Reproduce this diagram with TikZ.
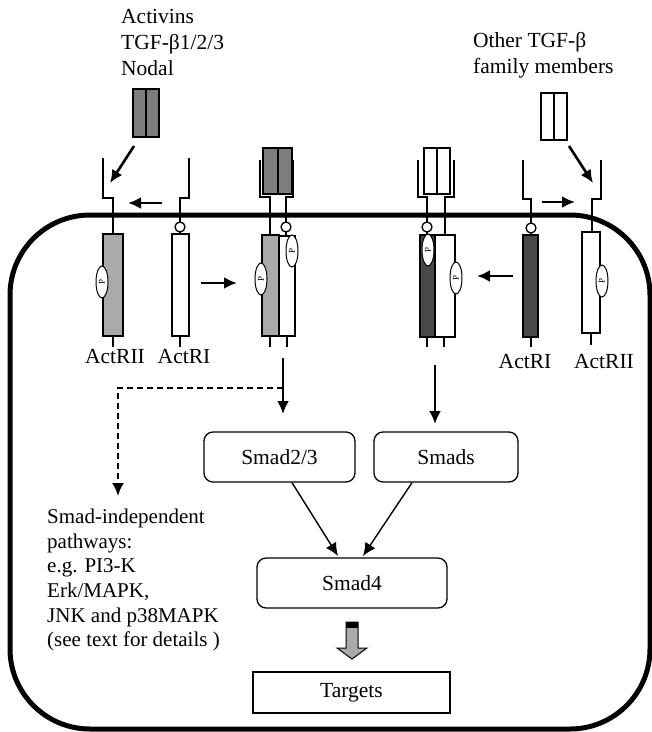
\documentclass[tikz,border=0pt]{standalone}
\usepackage{fontspec}
\setmainfont{Liberation Serif}
\usetikzlibrary{arrows.meta, shapes.geometric}
\definecolor{liggray}{RGB}{125, 125, 125}
\definecolor{rtwogray}{RGB}{170, 170, 170}
\definecolor{ronedark}{RGB}{72, 72, 72}
\tikzset{
  txt/.style={font=\fontsize{21.5}{26}\selectfont, inner sep=0pt},
  smadbox/.style={draw, line width=1.3pt, rounded corners=9pt, font=\fontsize{21.5}{26}\selectfont},
  rline/.style={line width=1.3pt},
  phos/.style={ellipse, draw, fill=white, line width=1pt, rotate=90, minimum width=32pt, minimum height=12pt, inner sep=0pt, font=\fontsize{9}{9}\selectfont},
  bigarrow/.style={->, line width=2.6pt},
}

\begin{document}
\begin{tikzpicture}[x=1pt, y=-1pt, >={Latex[length=13pt,width=12pt]}]
    \useasboundingbox (0,0) rectangle (652,732);
    \draw[line width=5pt, rounded corners=80pt] (10,215) rectangle (650,729);

    \node[txt, anchor=north west, align=left] (actlig) at (121,9) {Activins\\TGF-β1/2/3\\Nodal};
    \node[txt, anchor=north west, align=left] (othlig) at (473,32) {Other TGF-β\\family members};

    \filldraw[rline, fill=liggray] (133,89) rectangle (159,137);
    \draw[rline] (146,89) -- (146,137);
    \draw[rline] (541,93) rectangle (567,140);
    \draw[rline] (554,93) -- (554,140);

    \draw[rline] (103,158) |- (113,198) -- (113,234);
    \filldraw[rline, fill=rtwogray] (103,234) rectangle (123,336);
    \draw[rline] (113,336) -- (113,347);
    \node[phos] (pa) at (102,282) {P};

    \draw[rline] (189,158) |- (180,198) -- (180,222);
    \draw[rline] (180,227) circle (5);
    \draw[rline] (180,232) -- (180,234);
    \draw[rline] (172,234) rectangle (189,336);
    \draw[rline] (180,336) -- (180,347);

    \filldraw[rline, fill=liggray] (263,148) rectangle (292,194);
    \draw[rline] (278,148) -- (278,194);
    \draw[rline] (260,160) |- (270,197) -- (270,235);
    \draw[rline] (293,160) |- (286,197) -- (286,222);
    \draw[rline] (286,227) circle (5);
    \draw[rline] (286,232) -- (286,236);
    \filldraw[rline, fill=rtwogray] (262,235) rectangle (279,336);
    \draw[rline] (279,236) rectangle (295,336);
    \draw[rline] (270,336) -- (270,347);
    \draw[rline] (287,336) -- (287,347);
    \node[phos] (pb) at (261,279) {P};
    \node[phos] (pc) at (292,251) {P};

    \draw[rline] (424,148) rectangle (450,194);
    \draw[rline] (437,148) -- (437,194);
    \draw[rline] (418,160) |- (427,197) -- (427,222);
    \draw[rline] (427,227) circle (5);
    \draw[rline] (427,232) -- (427,235);
    \draw[rline] (454,160) |- (445,197) -- (445,235);
    \filldraw[rline, fill=ronedark] (420,235) rectangle (435,337);
    \draw[rline] (435,235) rectangle (455,337);
    \draw[rline] (427,337) -- (427,347);
    \draw[rline] (444,337) -- (444,347);
    \node[phos] (pd) at (428,250) {P};
    \node[phos] (pe) at (456,278) {P};

    \draw[rline] (523,160) |- (531,199) -- (531,223);
    \draw[rline] (531,228) circle (5);
    \draw[rline] (531,233) -- (531,235);
    \filldraw[rline, fill=ronedark] (523,235) rectangle (538,337);
    \draw[rline] (531,337) -- (531,347);

    \draw[rline] (601,160) |- (592,199) -- (592,232);
    \draw[rline] (582,232) rectangle (600,333);
    \draw[rline] (591,333) -- (591,345);
    \node[phos] (pf) at (602,281) {P};

    \node[txt] (rtwoa) at (115,357) {ActRII};
    \node[txt] (ronea) at (184,357) {ActRI};
    \node[txt] (roneb) at (525,362) {ActRI};
    \node[txt] (rtwob) at (604,362) {ActRII};

    \coordinate (liga) at (134,146);
    \coordinate (ligaend) at (110,183);
    \coordinate (ligb) at (569,146);
    \coordinate (ligbend) at (593,183);
    \draw[bigarrow] (liga) -- (ligaend);
    \draw[bigarrow] (ligb) -- (ligbend);
    \draw[bigarrow] (162,203) -- (128,203);
    \draw[bigarrow] (542,202) -- (575,202);
    \draw[bigarrow] (201,283) -- (237,283);
    \draw[bigarrow] (513,276) -- (477,276);

    \node[smadbox, minimum width=151pt, minimum height=50pt] (smadtwo) at (279.5,457) {Smad2/3};
    \node[smadbox, minimum width=144pt, minimum height=50pt] (smads) at (446,457) {Smads};
    \node[smadbox, minimum width=190pt, minimum height=50pt] (smadfour) at (352,583) {Smad4};
    \node[draw, line width=1.3pt, minimum width=197pt, minimum height=41pt, font=\fontsize{21.5}{26}\selectfont] (targets) at (351.5,692.5) {Targets};

    \node[txt, anchor=north west, align=left, font=\fontsize{21}{24.6}\selectfont] (indep) at (47,509) {Smad-independent\\pathways:\\e.g. PI3-K\\Erk/MAPK,\\JNK and p38MAPK\\(see text for details )};

    \coordinate (cxa) at (283,358);
    \coordinate (cxaend) at (283,414);
    \coordinate (cxb) at (435,365);
    \coordinate (cxbend) at (435,424);
    \coordinate (split) at (283,388);
    \coordinate (dashend) at (118,496);
    \draw[bigarrow] (cxa) -- (cxaend);
    \draw[bigarrow] (cxb) -- (cxbend);
    \draw[->, line width=2.2pt, dash pattern=on 6pt off 4pt] (split) -| (dashend);
    \draw[->, line width=1.4pt] (smadtwo.south -| 292,0) -- (338,556);
    \draw[->, line width=1.4pt] (smads.south -| 412,0) -- (363,556);

    \fill[rtwogray, draw=black, line width=1pt] (346,622) -- (358,622) -- (358,648) -- (367,648) -- (352,659) -- (337,648) -- (346,648) -- cycle;
    \fill (346,622) rectangle (358,628);
\end{tikzpicture}
\end{document}
